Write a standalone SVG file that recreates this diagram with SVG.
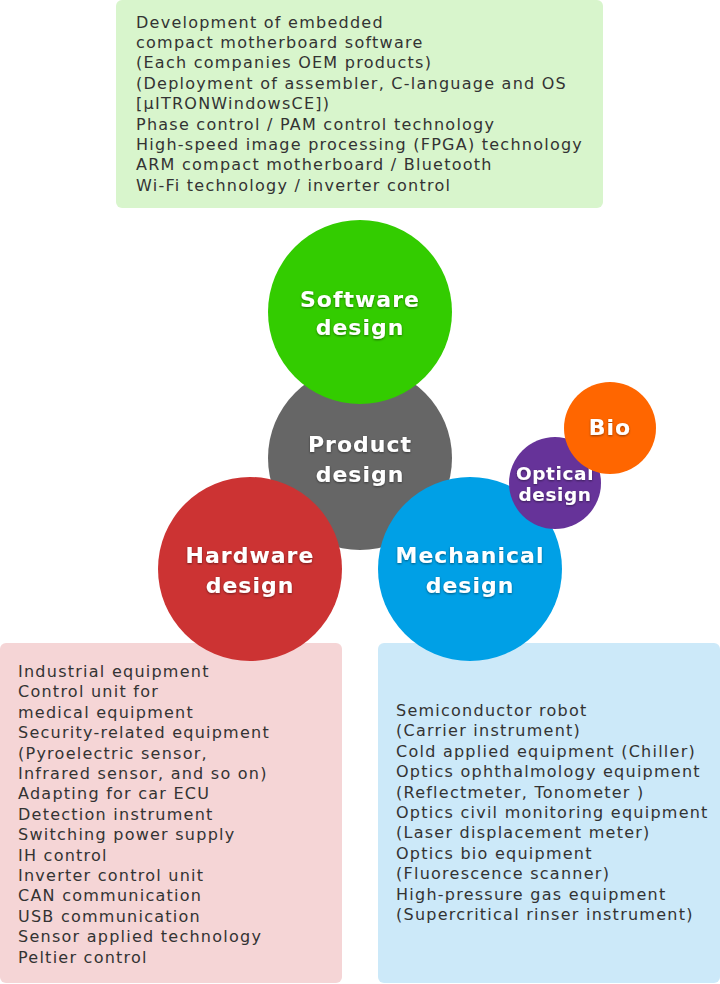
<svg xmlns="http://www.w3.org/2000/svg" width="720" height="984" viewBox="0 0 720 984">
<style>
.box-text{font-family:"DejaVu Sans",sans-serif;font-size:16px;letter-spacing:1.25px;fill:#333}
.c-text{font-family:"DejaVu Sans",sans-serif;font-size:22px;font-weight:bold;letter-spacing:1px;fill:#fff;text-anchor:middle}
.c-small{font-size:18.5px;letter-spacing:0.6px}
</style>
<defs>
<filter id="sh" x="-20%" y="-20%" width="140%" height="140%">
<feDropShadow dx="0" dy="1" stdDeviation="1.2" flood-color="#000" flood-opacity="0.45"/>
</filter>
</defs>
<g id="software-box">
<rect x="116" y="0" width="487" height="208" rx="6" fill="#d8f5cc"/>
<text class="box-text">
<tspan x="136" y="27.5">Development of embedded</tspan>
<tspan x="136" y="47.9">compact motherboard software</tspan>
<tspan x="136" y="68.3">(Each companies OEM products)</tspan>
<tspan x="136" y="88.7">(Deployment of assembler, C-language and OS</tspan>
<tspan x="136" y="109.1">[μITRONWindowsCE])</tspan>
<tspan x="136" y="129.5">Phase control / PAM control technology</tspan>
<tspan x="136" y="149.9">High-speed image processing (FPGA) technology</tspan>
<tspan x="136" y="170.3">ARM compact motherboard / Bluetooth</tspan>
<tspan x="136" y="190.7">Wi-Fi technology / inverter control</tspan>
</text>
</g>
<g id="hardware-box">
<rect x="0" y="643" width="342" height="340" rx="6" fill="#f5d5d6"/>
<text class="box-text">
<tspan x="18" y="677">Industrial equipment</tspan>
<tspan x="18" y="697.4">Control unit for</tspan>
<tspan x="18" y="717.8">medical equipment</tspan>
<tspan x="18" y="738.2">Security-related equipment</tspan>
<tspan x="18" y="758.6">(Pyroelectric sensor,</tspan>
<tspan x="18" y="779">Infrared sensor, and so on)</tspan>
<tspan x="18" y="799.4">Adapting for car ECU</tspan>
<tspan x="18" y="819.8">Detection instrument</tspan>
<tspan x="18" y="840.2">Switching power supply</tspan>
<tspan x="18" y="860.6">IH control</tspan>
<tspan x="18" y="881">Inverter control unit</tspan>
<tspan x="18" y="901.4">CAN communication</tspan>
<tspan x="18" y="921.8">USB communication</tspan>
<tspan x="18" y="942.2">Sensor applied technology</tspan>
<tspan x="18" y="962.6">Peltier control</tspan>
</text>
</g>
<g id="mechanical-box">
<rect x="378" y="643" width="342" height="340" rx="6" fill="#cce9f9"/>
<text class="box-text">
<tspan x="396" y="716">Semiconductor robot</tspan>
<tspan x="396" y="736.4">(Carrier instrument)</tspan>
<tspan x="396" y="756.8">Cold applied equipment (Chiller)</tspan>
<tspan x="396" y="777.2">Optics ophthalmology equipment</tspan>
<tspan x="396" y="797.6">(Reflectmeter, Tonometer )</tspan>
<tspan x="396" y="818">Optics civil monitoring equipment</tspan>
<tspan x="396" y="838.4">(Laser displacement meter)</tspan>
<tspan x="396" y="858.8">Optics bio equipment</tspan>
<tspan x="396" y="879.2">(Fluorescence scanner)</tspan>
<tspan x="396" y="899.6">High-pressure gas equipment</tspan>
<tspan x="396" y="920">(Supercritical rinser instrument)</tspan>
</text>
</g>
<g id="connectors"></g>
<g id="product">
<circle cx="360" cy="458" r="92" fill="#666666"/>
<text class="c-text" filter="url(#sh)"><tspan x="360" y="452">Product</tspan><tspan x="360" y="482">design</tspan></text>
</g>
<g id="software">
<circle cx="360" cy="312" r="92" fill="#33cc00"/>
<text class="c-text" filter="url(#sh)"><tspan x="360" y="307">Software</tspan><tspan x="360" y="335">design</tspan></text>
</g>
<g id="hardware">
<circle cx="250" cy="569" r="92" fill="#cc3333"/>
<text class="c-text" filter="url(#sh)"><tspan x="250" y="563">Hardware</tspan><tspan x="250" y="593">design</tspan></text>
</g>
<g id="mechanical">
<circle cx="470" cy="569" r="92" fill="#00a0e6"/>
<text class="c-text" filter="url(#sh)"><tspan x="470" y="563">Mechanical</tspan><tspan x="470" y="593">design</tspan></text>
</g>
<g id="optical">
<circle cx="555" cy="483" r="46" fill="#663399"/>
<text class="c-text c-small" filter="url(#sh)"><tspan x="555" y="480">Optical</tspan><tspan x="555" y="501">design</tspan></text>
</g>
<g id="bio">
<circle cx="610" cy="428" r="46" fill="#ff6600"/>
<text class="c-text" filter="url(#sh)"><tspan x="610" y="435">Bio</tspan></text>
</g>
</svg>
